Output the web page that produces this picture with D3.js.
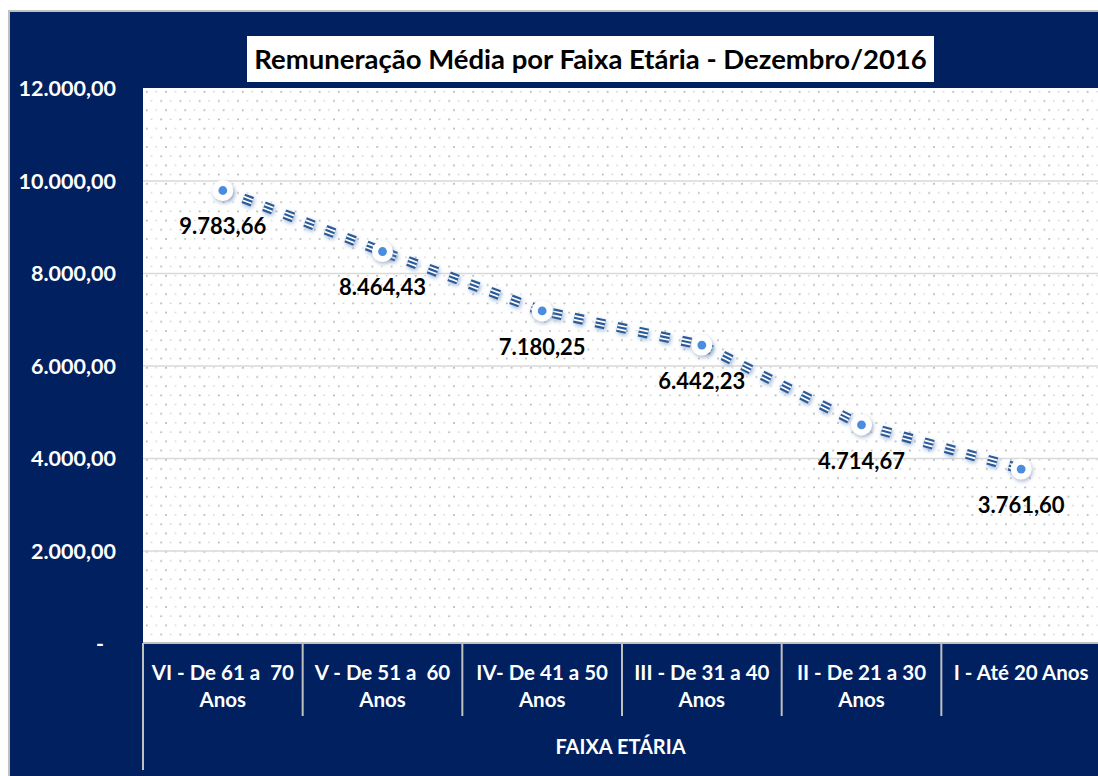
<!DOCTYPE html>
<html>
<head>
<meta charset="utf-8">
<script src="https://cdn.jsdelivr.net/npm/d3@7"></script>
<style>
  body { margin: 0; background: #fff; }
  text { font-family: Lato, "Noto Sans", sans-serif; font-weight: bold; white-space: pre; }
</style>
</head>
<body>
<svg id="chart" width="1098" height="776"></svg>
<script>
'use strict'

// chart data
var categories = ['VI - De 61 a  70 Anos', 'V - De 51 a  60 Anos', 'IV- De 41 a 50 Anos',
                  'III - De 31 a 40 Anos', 'II - De 21 a 30 Anos', 'I - Até 20 Anos']
var tickLines = [['VI - De 61 a  70', 'Anos'], ['V - De 51 a  60', 'Anos'], ['IV- De 41 a 50', 'Anos'],
                 ['III - De 31 a 40', 'Anos'], ['II - De 21 a 30', 'Anos'], ['I - Até 20 Anos']]
var values = [9783.66, 8464.43, 7180.25, 6442.23, 4714.67, 3761.60]
var yTicks = [0, 2000, 4000, 6000, 8000, 10000, 12000]
var title = 'Remuneração Média por Faixa Etária - Dezembro/2016'
var axisTitle = 'FAIXA ETÁRIA'

var navy = '#002060'
var lineBlue = '#2b5a98'

var svg = d3.select('#chart'),
    W = +svg.attr('width'),
    H = +svg.attr('height')

var plot = {left: 143, right: 1101, top: 88, bottom: 643}

var br = d3.formatLocale({decimal: ',', thousands: '.', grouping: [3], currency: ['R$', '']})
var fmt = br.format(',.2f')

var x = d3.scaleBand()
    .domain(categories)
    .range([plot.left, plot.right])

var y = d3.scaleLinear()
    .domain([0, 12000])
    .range([plot.bottom, plot.top])

var defs = svg.append('defs')

// dotted background pattern like the excel plot area
var pat = defs.append('pattern')
    .attr('id', 'dots')
    .attr('patternUnits', 'userSpaceOnUse')
    .attr('x', plot.left).attr('y', plot.top)
    .attr('width', 19.2).attr('height', 18.4)
pat.append('rect').attr('x', 3).attr('y', 3).attr('width', 1.6).attr('height', 1.6).attr('fill', '#a9a9a9')
pat.append('rect').attr('x', 12.6).attr('y', 3).attr('width', 1.3).attr('height', 1.3).attr('fill', '#c4c4c4')
pat.append('rect').attr('x', 7.8).attr('y', 12.2).attr('width', 1.3).attr('height', 1.3).attr('fill', '#c4c4c4')
pat.append('rect').attr('x', 17.4).attr('y', 12.2).attr('width', 1.6).attr('height', 1.6).attr('fill', '#a9a9a9')

var shadow = defs.append('filter').attr('id', 'shadow')
    .attr('x', '-50%').attr('y', '-50%').attr('width', '200%').attr('height', '200%')
shadow.append('feDropShadow')
    .attr('dx', 1).attr('dy', 2).attr('stdDeviation', 2.2)
    .attr('flood-color', '#5f86c0').attr('flood-opacity', 0.6)

var mshadow = defs.append('filter').attr('id', 'mshadow')
    .attr('x', '-80%').attr('y', '-80%').attr('width', '260%').attr('height', '260%')
mshadow.append('feDropShadow')
    .attr('dx', 1).attr('dy', 2).attr('stdDeviation', 2.2)
    .attr('flood-color', '#7f93b3').attr('flood-opacity', 0.65)

// frame
svg.append('rect').attr('x', 8).attr('y', 10).attr('width', W - 8).attr('height', H - 10).attr('fill', '#c0c0c0')
svg.append('rect').attr('x', 10).attr('y', 12).attr('width', W - 10).attr('height', H - 12).attr('fill', navy)

// plot area
svg.append('rect')
    .attr('x', plot.left).attr('y', plot.top)
    .attr('width', W - plot.left).attr('height', plot.bottom - plot.top)
    .attr('fill', '#fff')
svg.append('rect')
    .attr('x', plot.left).attr('y', plot.top)
    .attr('width', W - plot.left).attr('height', plot.bottom - plot.top)
    .attr('fill', 'url(#dots)')

// gridlines
var grid = svg.append('g')
    .attr('transform', 'translate(' + plot.left + ',0)')
    .call(d3.axisLeft(y).tickValues(yTicks.filter(d => d > 0 && d < 12000))
      .tickSize(-(W - plot.left)).tickFormat(''))
grid.select('.domain').remove()
grid.selectAll('line').attr('stroke', '#d9d9d9').attr('stroke-width', 1.5)

// y axis labels
var yAxis = svg.append('g')
    .attr('transform', 'translate(116,0)')
    .call(d3.axisLeft(y).tickValues(yTicks).tickSize(0).tickPadding(0)
      .tickFormat(d => d == 0 ? '-' : fmt(d)))
yAxis.select('.domain').remove()
yAxis.selectAll('text')
    .attr('fill', '#fff')
    .style('font-size', '21.5px')
    .style('font-family', null)
    .attr('dy', '0.35em')
yAxis.selectAll('.tick').filter(d => d == 0).select('text').attr('x', -12)

// x axis (categories)
svg.append('line')
    .attr('x1', plot.left).attr('x2', W)
    .attr('y1', plot.bottom).attr('y2', plot.bottom)
    .attr('stroke', '#c0c0c0').attr('stroke-width', 2)

svg.selectAll('.sep')
  .data(categories)
  .enter().append('line')
    .attr('class', 'sep')
    .attr('x1', d => x(d)).attr('x2', d => x(d))
    .attr('y1', plot.bottom)
    .attr('y2', (d, i) => i == 0 ? 770 : 716)
    .attr('stroke', '#c0c0c0').attr('stroke-width', 2)

var xAxis = svg.append('g')
    .attr('transform', 'translate(0,' + plot.bottom + ')')
    .call(d3.axisBottom(x).tickSize(0).tickPadding(0))
xAxis.select('.domain').remove()
xAxis.selectAll('text').each(function(d, i) {
  let t = d3.select(this).text('')
    .attr('y', 30).attr('dy', 0)
    .attr('fill', '#fff')
    .style('font-size', '20.5px')
    .style('font-family', null)
  tickLines[i].forEach((s, j) => {
    t.append('tspan').attr('x', 0).attr('dy', j == 0 ? '0.35em' : 27).text(s)
  })
})

svg.append('text')
    .attr('x', (plot.left + W) / 2)
    .attr('y', 747)
    .attr('dy', '0.35em')
    .attr('text-anchor', 'middle')
    .attr('fill', '#fff')
    .style('font-size', '20px')
    .text(axisTitle)

// series
var data = categories.map((c, i) => ({cat: c, v: values[i]}))
var cx = d => x(d.cat) + x.bandwidth() / 2

var line = d3.line().x(cx).y(d => y(d.v))

var serie = svg.append('g').attr('filter', 'url(#shadow)')
serie.append('path').datum(data)
    .attr('d', line).attr('fill', 'none')
    .attr('stroke', lineBlue).attr('stroke-width', 10)
    .attr('stroke-dasharray', '9.5,12.5')
serie.append('path').datum(data)
    .attr('d', line).attr('fill', 'none')
    .attr('stroke', '#fff').attr('stroke-width', 5.6)
    .attr('stroke-dasharray', '9.5,12.5')
serie.append('path').datum(data)
    .attr('d', line).attr('fill', 'none')
    .attr('stroke', lineBlue).attr('stroke-width', 2.2)
    .attr('stroke-dasharray', '9.5,12.5')

var marks = svg.selectAll('.mark')
  .data(data)
  .enter().append('g')
    .attr('class', 'mark')
    .attr('transform', d => 'translate(' + cx(d) + ',' + y(d.v) + ')')
marks.append('circle').attr('r', 10.5).attr('fill', '#fff').attr('filter', 'url(#mshadow)')
marks.append('circle').attr('r', 4.4).attr('fill', '#4a8de0')

svg.selectAll('.lbl')
  .data(data)
  .enter().append('text')
    .attr('class', 'lbl')
    .attr('x', cx)
    .attr('y', d => y(d.v) + 36)
    .attr('dy', '0.35em')
    .attr('text-anchor', 'middle')
    .attr('fill', '#000')
    .style('font-size', '22px')
    .text(d => fmt(d.v))

// title
svg.append('rect')
    .attr('x', 247).attr('y', 36).attr('width', 687).attr('height', 46)
    .attr('fill', '#fff')
svg.append('text')
    .attr('x', 590.5).attr('y', 59)
    .attr('dy', '0.35em')
    .attr('text-anchor', 'middle')
    .attr('fill', '#000')
    .style('font-size', '27.5px')
    .text(title)
</script>
</body>
</html>
